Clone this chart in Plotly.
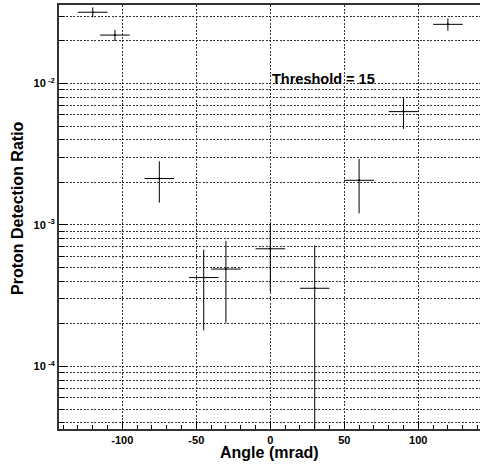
import plotly.graph_objects as go
import math

# data
angle = [-120, -105, -75, -45, -30, 0, 30, 60, 90, 120]
angle_err = [10, 10, 10, 10, 10, 10, 10, 10, 10, 10]
ratio = [0.0319, 0.0220, 0.00213, 4.25e-4, 4.88e-4, 6.79e-4, 3.57e-4, 2.07e-3, 6.33e-3, 0.0262]
ratio_err = [0.0026, 0.0020, 0.00069, 2.45e-4, 2.84e-4, 3.41e-4, 3.60e-4, 0.00086, 0.00155, 0.0026]

x_tickvals = [-100, -50, 0, 50, 100]
x_ticktext = ["-100", "-50", "0", "50", "100"]
x_minor = [v for v in range(-140, 141, 10) if v % 50 != 0]
y_tickvals = [1e-4, 1e-3, 1e-2]
y_ticktext = ["10<sup> -4</sup>", "10<sup> -3</sup>", "10<sup> -2</sup>"]
y_minor = [m * 10.0 ** e for e in (-5, -4, -3, -2) for m in range(2, 10)]

FONT = "Liberation Sans"
GRID = "#333"
DASH = "2px,1.5px"

fig = go.Figure()
fig.add_trace(go.Scatter(
    x=angle, y=ratio, mode="markers",
    marker=dict(color="black", size=2),
    error_x=dict(type="data", array=angle_err, color="black", thickness=1, width=0),
    error_y=dict(type="data", array=ratio_err, color="black", thickness=1, width=0),
    showlegend=False, hoverinfo="skip",
))

fig.update_layout(
    width=480, height=466,
    margin=dict(l=59, r=0, t=5, b=37),
    paper_bgcolor="white", plot_bgcolor="white",
    font=dict(family=FONT, color="black", size=11, weight="bold"),
    xaxis=dict(
        range=[-142.8, 141.7],
        tickmode="array", tickvals=x_tickvals, ticktext=x_ticktext,
        ticks="inside", ticklen=8, tickwidth=1, tickcolor="black",
        showline=True, linewidth=2, linecolor="#333", mirror=True,
        showgrid=True, gridcolor=GRID, griddash=DASH, gridwidth=1,
        zeroline=False,
        minor=dict(tickmode="array", tickvals=x_minor, ticks="inside", ticklen=4,
                   tickcolor="black", showgrid=False, gridcolor="rgba(0,0,0,0)"),
        tickfont=dict(family=FONT, size=11, color="black", weight="bold"),
    ),
    yaxis=dict(
        type="log",
        range=[-4.442, -1.445],
        tickmode="array", tickvals=y_tickvals, ticktext=y_ticktext,
        ticks="inside", ticklen=9, tickwidth=1, tickcolor="black",
        showline=True, linewidth=2, linecolor="#333", mirror=False,
        showgrid=True, gridcolor=GRID, griddash=DASH, gridwidth=1,
        zeroline=False,
        minor=dict(tickmode="array", tickvals=y_minor, ticks="inside", ticklen=5,
                   tickcolor="black", showgrid=True, gridcolor=GRID, griddash=DASH, gridwidth=1),
        tickfont=dict(family=FONT, size=11, color="black", weight="bold"),
    ),
    annotations=[
        dict(text="Angle (mrad)", xref="paper", yref="paper", x=0.5, y=-0.0566,
             xanchor="center", yanchor="middle", showarrow=False,
             font=dict(family=FONT, size=16, color="black", weight="bold")),
        dict(text="Proton Detection Ratio", xref="paper", yref="paper", x=-0.0986, y=0.5224,
             xanchor="center", yanchor="middle", textangle=-90, showarrow=False,
             font=dict(family=FONT, size=16, color="black", weight="bold")),
        dict(text="Threshold = 15", xref="x", yref="y", x=0, y=math.log10(0.0107),
             xanchor="left", yanchor="middle", showarrow=False,
             font=dict(family=FONT, size=14.5, color="black", weight="bold")),
    ],
)

fig.write_html("out.html", config={"displayModeBar": False},
               post_script="document.body.style.margin='0';")
